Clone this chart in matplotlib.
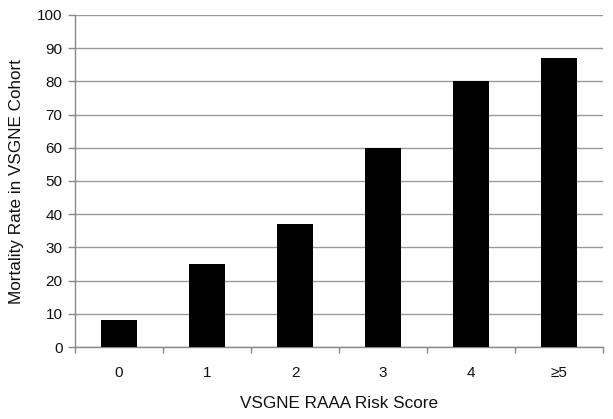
import numpy as np
import matplotlib.pyplot as plt

plt.rcParams['font.family'] = ['Liberation Sans', 'DejaVu Sans']

scores = ['0', '1', '2', '3', '4', '≥5']
mortality = [8, 25, 37, 60, 80, 87]
yticks = list(range(0, 101, 10))

fig = plt.figure(figsize=(6.13, 4.19), dpi=100)
ax = fig.add_axes([75 / 613, 1 - 347 / 419, 528 / 613, 332 / 419])

x = np.arange(len(scores))
ax.bar(x, mortality, width=0.4, color='black', zorder=3)

ax.set_xlim(-0.5, len(scores) - 0.5)
ax.set_ylim(0, 100)
ax.set_yticks(yticks)
ax.yaxis.grid(True, color='#999999', linewidth=1)
ax.set_axisbelow(True)

# category labels in the middle, ticks on the boundaries
ax.set_xticks(x)
ax.set_xticklabels(scores, fontsize=11, color='#111111')
ax.tick_params(axis='x', length=0, pad=14)
ax.set_xticks(np.arange(len(scores) + 1) - 0.5, minor=True)
ax.tick_params(axis='x', which='minor', length=4, color='#888888', width=1)
ax.tick_params(axis='y', length=5, color='#888888', width=1, labelsize=11,
               labelcolor='#111111', pad=4)

for s in ['top', 'right']:
    ax.spines[s].set_visible(False)
for s in ['left', 'bottom']:
    ax.spines[s].set_color('#888888')
    ax.spines[s].set_linewidth(1)

ax.set_xlabel('VSGNE RAAA Risk Score', fontsize=12.3, labelpad=11, color='#111111')
ax.set_ylabel('Mortality Rate in VSGNE Cohort', fontsize=12.3, labelpad=9, color='#111111')

fig.savefig('out.png', dpi=100)
